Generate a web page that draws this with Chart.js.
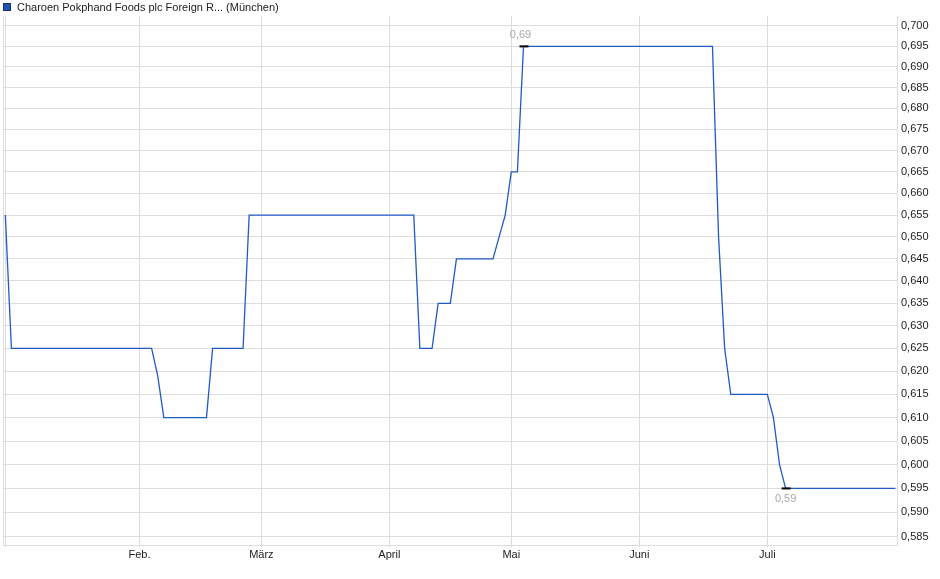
<!DOCTYPE html>
<html>
<head>
<meta charset="utf-8">
<script src="https://cdn.jsdelivr.net/npm/chart.js@4.4.1/dist/chart.umd.min.js"></script>
<style>
  body { margin: 0; background: #fff; }
  #wrap { position: relative; width: 940px; height: 579px; }
  #legend {
    position: absolute; left: 3px; top: 1px;
    font: 11px "Liberation Sans", Arial, sans-serif; color: #222;
    line-height: 13px; white-space: nowrap;
  }
  #legend .box {
    display: inline-block; width: 6px; height: 6px; margin-right: 6px;
    background: #1c54b4; border: 1px solid #1a2f66; vertical-align: -0px;
  }
</style>
</head>
<body>
<div id="wrap">
  <canvas id="chart" width="940" height="579"></canvas>
  <div id="legend"><span class="box"></span>Charoen Pokphand Foods plc Foreign R... (München)</div>
</div>
<script>
// trading calendar (Börse München, 2025)
const firstDay = '2025-01-01';
const lastDay = '2025-07-30';
const holidays = ['2025-01-01', '2025-04-18', '2025-04-21', '2025-05-01'];
const monthLabels = ['', 'Feb.', 'März', 'April', 'Mai', 'Juni', 'Juli'];

// price series: change points only, line joins them
const priceDates = [
  '2025-01-02', '2025-01-03', '2025-02-05', '2025-02-06', '2025-02-07',
  '2025-02-18', '2025-02-19', '2025-02-26', '2025-02-27', '2025-04-07',
  '2025-04-08', '2025-04-10', '2025-04-11', '2025-04-15', '2025-04-16',
  '2025-04-28', '2025-04-29', '2025-04-30', '2025-05-02', '2025-05-05',
  '2025-05-06', '2025-06-18', '2025-06-19', '2025-06-20', '2025-06-23',
  '2025-07-01', '2025-07-02', '2025-07-03', '2025-07-04', '2025-07-30'
];
const priceValues = [
  0.655, 0.625, 0.625, 0.619, 0.610,
  0.610, 0.625, 0.625, 0.655, 0.655,
  0.625, 0.625, 0.635, 0.635, 0.645,
  0.645, 0.650, 0.655, 0.665, 0.665,
  0.695, 0.695, 0.650, 0.625, 0.615,
  0.615, 0.610, 0.600, 0.595, 0.595
];

const yTicks = [
  0.585, 0.590, 0.595, 0.600, 0.605, 0.610, 0.615, 0.620, 0.625, 0.630, 0.635, 0.640,
  0.645, 0.650, 0.655, 0.660, 0.665, 0.670, 0.675, 0.680, 0.685, 0.690, 0.695, 0.700
];
const yMin = 0.58329;
const yMax = 0.70246;

function isoDay(d) { return d.toISOString().slice(0, 10); }

const tradingDays = [];
for (let d = new Date(firstDay + 'T00:00:00Z'); isoDay(d) <= lastDay; d.setUTCDate(d.getUTCDate() + 1)) {
  const wd = d.getUTCDay();
  const s = isoDay(d);
  if (wd === 0 || wd === 6 || holidays.includes(s)) continue;
  tradingDays.push(s);
}
const dayIndex = (s) => tradingDays.indexOf(s);

// first trading day of each month gets a tick
const monthTicks = [];
tradingDays.forEach((s, i) => {
  if (i === 0 || s.slice(5, 7) !== tradingDays[i - 1].slice(5, 7)) monthTicks.push(i);
});

const points = priceDates.map((s, i) => ({ x: dayIndex(s), y: priceValues[i] }));

const maxVal = Math.max(...priceValues);
const minVal = Math.min(...priceValues);
const maxPt = priceValues.indexOf(maxVal);
const minPt = priceValues.indexOf(minVal);

const fontFamily = '"Liberation Sans", Arial, sans-serif';
const gridColor = '#dddddd';

const frame = {
  id: 'frame',
  beforeDatasetsDraw(chart) {
    const { ctx, chartArea: a } = chart;
    ctx.save();
    ctx.strokeStyle = gridColor;
    ctx.lineWidth = 1;
    ctx.beginPath();
    ctx.moveTo(Math.round(a.left) + 0.5, a.top);
    ctx.lineTo(Math.round(a.left) + 0.5, a.bottom);
    ctx.stroke();
    ctx.restore();
  }
};

const extremes = {
  id: 'extremes',
  afterDatasetsDraw(chart) {
    const { ctx } = chart;
    const meta = chart.getDatasetMeta(0);
    ctx.save();
    ctx.font = '11px ' + fontFamily;
    ctx.textAlign = 'center';
    ctx.textBaseline = 'middle';
    [[maxPt, -11], [minPt, 11]].forEach(([i, dy]) => {
      const p = meta.data[i];
      ctx.strokeStyle = '#000';
      ctx.lineWidth = 2;
      ctx.beginPath();
      ctx.moveTo(p.x - 4, p.y);
      ctx.lineTo(p.x + 5, p.y);
      ctx.stroke();
      ctx.fillStyle = '#a8a8a8';
      ctx.fillText(priceValues[i].toFixed(2).replace('.', ','), p.x - (dy < 0 ? 3 : 0), p.y + dy);
    });
    ctx.restore();
  }
};

new Chart(document.getElementById('chart'), {
  type: 'line',
  data: {
    datasets: [{
      label: 'Charoen Pokphand Foods plc Foreign R... (München)',
      data: points,
      borderColor: '#1f5bc4',
      borderWidth: 1.3,
      pointRadius: 0,
      tension: 0,
      fill: false
    }]
  },
  options: {
    responsive: false,
    animation: false,
    layout: { padding: { left: 3, top: 16, right: 0, bottom: 0 } },
    plugins: { legend: { display: false }, tooltip: { enabled: false } },
    scales: {
      x: {
        type: 'linear',
        min: -0.38,
        max: 146.27,
        afterBuildTicks: (scale) => { scale.ticks = monthTicks.map(v => ({ value: v })); },
        afterFit: (scale) => { scale.height = 34; },
        grid: { color: gridColor, tickLength: 2 },
        border: { color: gridColor },
        ticks: {
          padding: 1,
          maxRotation: 0,
          autoSkip: false,
          color: '#222',
          font: { family: fontFamily, size: 11 },
          callback: (v) => monthLabels[monthTicks.indexOf(v)] ?? ''
        }
      },
      y: {
        type: 'logarithmic',
        position: 'right',
        bounds: 'data',
        min: yMin,
        max: yMax,
        afterBuildTicks: (scale) => {
          scale.ticks = yTicks.map(v => ({ value: v }));
          scale.min = yMin;
          scale.max = yMax;
        },
        afterFit: (scale) => { scale.width = 43; },
        grid: { color: gridColor, drawTicks: false },
        border: { color: gridColor },
        ticks: {
          padding: 4,
          autoSkip: false,
          color: '#222',
          font: { family: fontFamily, size: 11 },
          callback: (v) => Number(v).toFixed(3).replace('.', ',')
        }
      }
    }
  },
  plugins: [frame, extremes]
});
</script>
</body>
</html>
